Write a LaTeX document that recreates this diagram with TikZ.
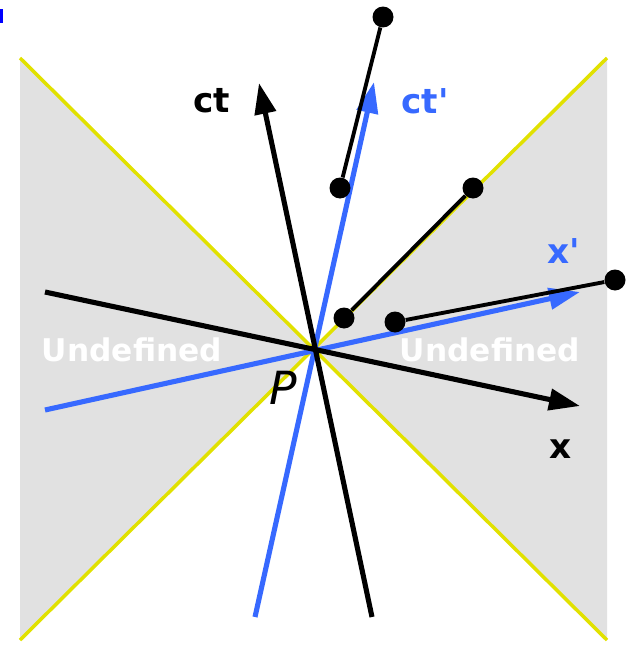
\documentclass[tikz,border=0pt]{standalone}
\usepackage{fontspec}
\setmainfont{DejaVu Sans}
\usetikzlibrary{arrows.meta}

\definecolor{axblue}{RGB}{55,105,255}
\definecolor{coneyellow}{RGB}{225,225,0}
\definecolor{regiongray}{RGB}{225,225,225}

\tikzset{
  axisline/.style={line width=2.9pt, -{Triangle[length=0.62cm,width=0.42cm]}},
  coneline/.style={coneyellow, line width=2pt},
  worldline/.style={line width=2.2pt},
  event/.style={circle, fill=black, minimum size=0.42cm, inner sep=0pt},
  axislabel/.style={anchor=base, inner sep=0pt, font=\fontsize{19.5}{21}\selectfont\bfseries},
  regionlabel/.style={anchor=base, inner sep=0pt, white, font=\fontsize{17.8}{19}\selectfont\bfseries}
}

\begin{document}
\begin{tikzpicture}[x=0.02cm, y=-0.02cm]
    \useasboundingbox (0,0) rectangle (634,646);
    % Corners of the diagram and the origin
    \coordinate (P) at (315,348);
    \coordinate (tl) at (20,58);
    \coordinate (tr) at (607,58);
    \coordinate (bl) at (20,640);
    \coordinate (br) at (607,640);
    % Cut-off mark
    \fill[blue] (0,9) rectangle (3,23);
    % Undefined regions
    \fill[regiongray] (tl) -- (P) -- (bl) -- cycle;
    \fill[regiongray] (tr) -- (P) -- (br) -- cycle;
    \node[regionlabel] (undefL) at (132,361) {Undefined};
    \node[regionlabel] (undefR) at (490,361) {Undefined};
    % Light cone
    \draw[coneline] (tl) -- (br);
    \draw[coneline] (tr) -- (bl);
    % Primed frame
    \coordinate (ctpS) at (255,617);
    \coordinate (ctpE) at (374,82);
    \coordinate (xpS) at (45,410);
    \coordinate (xpE) at (580,292);
    \draw[axisline, axblue] (ctpS) -- (ctpE);
    \draw[axisline, axblue] (xpS) -- (xpE);
    \node[axislabel, axblue] (ctpLabel) at (425,113) {ct\textquotesingle};
    \node[axislabel, axblue] (xpLabel) at (564,263) {x\textquotesingle};
    % Unprimed frame
    \coordinate (ctS) at (372,617);
    \coordinate (ctE) at (259,83);
    \coordinate (xS) at (45,292);
    \coordinate (xE) at (580,406);
    \draw[axisline] (ctS) -- (ctE);
    \draw[axisline] (xS) -- (xE);
    \node[axislabel] (ctLabel) at (212,112) {ct};
    \node[axislabel] (xLabel) at (561,458) {x};
    \node[anchor=base, inner sep=0pt, font=\fontsize{26}{28}\selectfont\itshape] (pLabel) at (283,404) {P};
    % Pairs of events
    \node[event] (a1) at (383,17) {};
    \node[event] (a2) at (340,188) {};
    \node[event] (b1) at (473,188) {};
    \node[event] (b2) at (344,318) {};
    \node[event] (c1) at (615,280) {};
    \node[event] (c2) at (395,322) {};
    \draw[worldline] (a1) -- (a2);
    \draw[worldline] (b1) -- (b2);
    \draw[worldline] (c1) -- (c2);
\end{tikzpicture}
\end{document}
